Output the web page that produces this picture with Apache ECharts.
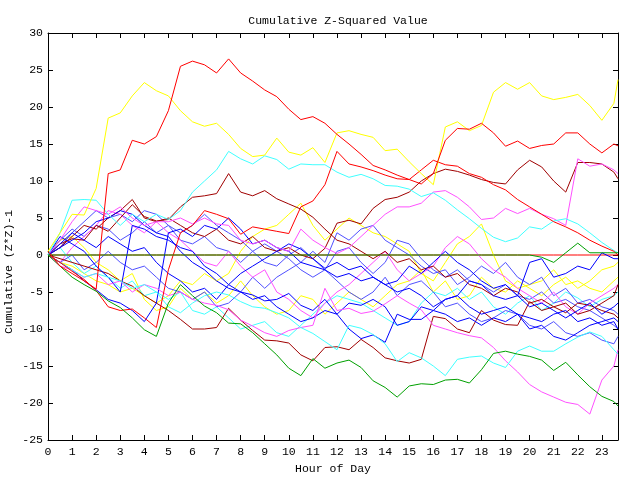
<!DOCTYPE html>
<html><head><meta charset="utf-8">
<script src="https://cdn.jsdelivr.net/npm/echarts@6/dist/echarts.min.js"></script>
<style>html,body{margin:0;padding:0;background:#fff;overflow:hidden}#c{width:640px;height:480px}</style>
</head><body><div id="c"></div>
<script>
// hour of day (half-hour samples, last sample at end of plot)
const hours = [0,0.5,1,1.5,2,2.5,3,3.5,4,4.5,5,5.5,6,6.5,7,7.5,8,8.5,9,9.5,10,10.5,11,11.5,12,12.5,13,13.5,14,14.5,15,15.5,16,16.5,17,17.5,18,18.5,19,19.5,20,20.5,21,21.5,22,22.5,23,23.5,23.67];
const xTicks = [0,1,2,3,4,5,6,7,8,9,10,11,12,13,14,15,16,17,18,19,20,21,22,23];
const yTicks = [-25,-20,-15,-10,-5,0,5,10,15,20,25,30];

const R0 = [0,0,0,0,0,0,0,0,0,0,0,0,0,0,0,0,0,0,0,0,0,0,0,0,0,0,0,0,0,0,0,0,0,0,0,0,0,0,0,0,0,0,0,0,0,0,0,0,0];
const Y2 = [0,-1,-1.5,-2.5,-3.5,-4,-5,-4.5,-5.5,-6.5,-5.5,-3.5,-4,-2.5,-3.5,-2.5,0.5,2.5,3.5,4,5.5,7,4,2,3.5,5,4,3,2.5,1.5,0.5,-2.5,-3.5,-1,1.5,2.5,4.2,0,-3.5,-4.5,-4,-3.5,-2,-4,-3.5,-4.5,-5,-3.5,-3];
const Y3 = [0.5,2,2.5,1,-1,-2,-3.5,-2.5,-6,-7.5,-7,-4.5,-6,-5,-6.5,-5.5,-3.5,-5.5,-7,-8,-7.5,-5.5,-6,-8,-6.5,-5,-6,-7,-5.5,-4,-3.5,-2,-5,-3.5,-6,-5.5,-3,-4.5,-5,-3.5,-4.5,-5.5,-4,-3,-4.5,-3.5,-2,-1.5,-1];
const C3 = [0,1,-1,-2.5,-1.5,-3,-4.5,-3.5,-5.5,-5,-6,-5,-7.5,-8,-7,-8.5,-10,-9.5,-9,-10.5,-11,-9.5,-8,-6.5,-5.5,-6,-6.5,-7.5,-8.5,-9.5,-9,-6.5,-5,-5.5,-4.5,-6,-5,-7,-8,-6.5,-5.5,-7.5,-6.5,-5,-5.8,-7,-6,-5.5,-5];
const LB1 = [0,2,3.5,2.5,4,3.5,2,3,4.5,3,4,2,1.5,2.5,1,0.5,-1,0.5,1.5,0.5,-0.5,-2,-3,-2,0.5,1,-1,-2.5,-1,2,1.5,-0.5,-2,-3,-2,-3.5,-4,-5,-4,-5.5,-6,-5,-6.5,-6,-7,-7.5,-8.5,-9.5,-10];
const LB2 = [0,-1,0,-2,-1,0.5,-1,-2,-1.5,-3,-4.5,-5,-6,-5,-7,-6.5,-5,-3,-4.5,-3,-2,-1,0.5,-1,3,2,3.5,4,2,1,0,-1.5,-2.5,-2,-4,-3,-1.5,-2.5,-1,-3,-4,-3,-5.5,-4.5,-6.5,-6,-7,-7.5,-8];
const LB3 = [0,1,3,4.5,6,5,5.5,4.5,6,5.5,4,3,4,5.5,4,3,2,0.5,-1,-1.5,0,1,-0.5,-2,-3.5,-5,-6,-5,-3,-5.5,-4,-3.5,-5,-7,-6.5,-8,-9,-8.5,-7.5,-8,-9.5,-10,-9,-10.5,-11,-10.5,-11.5,-12,-11];
const M3 = [0,-1,1,2.5,4,6,5.5,4,3,4.5,3,2,0.5,-1,-1.5,0.5,-1.5,-3,-2,-5,-6,-7.5,-8.5,-6.5,-5,-4,-2.5,-1,0.5,-2,-3.5,-2.5,-1.5,1,2.5,1.5,-0.5,-2,-3,-4.5,-5.5,-6.5,-5,-7,-8,-6.5,-5.5,-4.5,-4];
const DR1 = [0,1.5,2.2,2,4,3.2,5,6.8,5.2,4.6,4.8,6.5,7.8,8,8.3,11,8.5,8,8.7,7.6,6.9,6.2,5.1,3.5,2,1.5,0.5,-0.5,0.5,-1,-0.5,-2,-1.5,-3,-2.5,-4,-4.5,-5.5,-4.5,-5,-6.5,-6,-7,-6.5,-8,-7.5,-6.5,-5.5,-4];
const DR2 = [0,-0.5,-1,-1.5,-2,-2.5,-3.5,-4.2,-5.5,-6.5,-7.5,-8.7,-10,-10,-9.8,-7.2,-8.8,-10.2,-11.5,-11.6,-11.9,-13.5,-14.3,-12.5,-12.4,-12.8,-11.4,-12.5,-13.9,-14.3,-14.6,-14.1,-8.3,-8.6,-10,-10.5,-7.5,-8.8,-9.4,-9.5,-6.3,-7.5,-7,-7.8,-6.5,-6.8,-7.5,-8,-8.5];
const DR3 = [0,1,2.5,4,3.5,5,6,7.5,5,4.5,5,4,3,2.5,3.5,2,1.5,2.5,1,0.5,1,0,-0.5,0.9,4.3,4.7,4.2,6.3,7.5,7.8,8.5,10,11,11.6,11.3,10.8,10.2,9.8,9.6,11.5,12.8,11.9,10,8.5,12.5,12.5,12.3,11.2,10.3];
const B4 = [0,1.5,3,2,1,2.5,1.5,0.5,1,-1,-2.5,-3.5,-5,-4.5,-6,-4,-2.5,-1.5,-0.5,0.5,1.5,0.8,-0.5,-1.8,-1,-2,-1.5,-3,-4,-3.5,-1.5,-2.5,-1,0.5,-1,-2,-3.5,-4.5,-4,-5.5,-1,-0.5,-3,-2.5,-1.5,-2,0.3,-0.5,-0.5];
const B3 = [0,1,2,3,4.5,5,6,5.5,4,3,2.5,0.5,-1,-2,-3.5,-4.5,-5,-5.4,-6.2,-6,-5.2,-6.8,-7.5,-6,-8,-10,-11.3,-10.8,-11.8,-8,-8.7,-8.7,-7.5,-6,-5.5,-3.5,-4,-5.5,-6,-5.5,-7,-6.5,-7.5,-8.5,-7.5,-6.5,-8,-7,-6.5];
const B2 = [0,2.5,1.5,0.5,-1.5,-3,-5,4,3.5,2.5,2,1,0.5,-1.5,-2.5,-4,-5,-6,-5.5,-7,-8,-9,-8.5,-7.5,-8,-6.5,-6.8,-6,-7,-9.5,-9,-7,-7.5,-8,-9,-8.5,-9.5,-8.5,-9,-8,-10,-9.5,-11,-11.5,-10.5,-9.5,-9,-8.5,-9];
const B1 = [0,-1,-2,-3.5,-4.7,-6,-6.5,-7.5,-9,-6.5,3,3.5,2.5,4,3.5,5,3.5,1.5,2,1,0.5,-1,-1.5,-2,-3,-2.5,-3.5,-3,-4,-5,-4.5,-5.5,-7,-6,-5.5,-7,-8,-7.5,-7,-8,-8.5,-9,-8,-7.5,-9,-8.5,-9.5,-9,-10];
const M2 = [0,2,4.5,6.5,6,5.5,6.5,5,4,4.5,4.5,5,4.2,5,4.2,4,2,1.5,2,1,0.5,3.5,2,1,0.2,1,2.5,4,5.5,6.5,6.5,7,8.5,8.7,7.8,6.5,4.8,5,6.3,5.6,6.3,5.5,4.9,4,13,12,12.3,11.5,11];
const M1 = [0,-1.5,-2,-3,-2.5,-4,-3.5,-5,-4,-4.5,-5.5,-5,-6,-6.5,-6.8,-7.4,-8.8,-9.6,-10.5,-11,-10.2,-9.8,-9.5,-4.5,-7.5,-7.2,-7.9,-7.6,-6.6,-5.5,-6.5,-7.4,-9.5,-10,-10.5,-10.9,-11.2,-12.5,-14.3,-15.8,-17.5,-18.5,-19.2,-19.9,-20.2,-21.5,-16.9,-15,-12.8];
const C2 = [0,-1,-2,-3,-2.5,-3,-3.5,-4.5,-4,-5,-7,-7.8,-6.5,-5.5,-5,-5.4,-6.3,-7,-7.2,-7.8,-8.5,-9.8,-10.6,-11.7,-12.8,-9.5,-9.9,-10.75,-12,-14.4,-13.2,-13.9,-15,-16.3,-14.1,-13.8,-13.65,-14.6,-15.2,-13,-12.3,-13,-13,-12,-11.1,-10.4,-11,-12.8,-13.4];
const C1 = [0,3,7.4,7.5,7.4,5.5,4,5.5,4.5,5.5,4.8,6,8.5,10,11.5,14,13,12.3,13.4,12.9,11.6,12.3,12.2,12.2,11.2,10.5,10.9,10.3,9.4,9.3,8.9,7.9,8.4,7.4,6.1,4.9,3.6,2.4,1.8,2.3,3.8,3.5,4.6,4.9,4.2,3.0,1.7,0.6,0.3];
const R2 = [0,-1,-2.2,-3.3,-4.8,-7,-7.5,-7.3,-8.5,-9.8,-2,3,4,6,5.5,4.9,2.8,3.8,3.5,3.2,2.9,6.5,7.3,9.5,14,12.3,11.9,11.4,10.8,10.3,10.2,11.5,12.8,12.2,12,11,10.5,9.5,8.8,7.5,6.5,5.5,4.5,3.8,3,2,1.2,0.5,0];
const G1 = [0,-1.5,-3,-4,-4.9,-6.2,-7.1,-8.5,-10.1,-11,-6.5,-4,-5.5,-6.9,-7.8,-9.2,-9.3,-10.5,-12,-13.5,-15.3,-16.3,-14,-15.3,-14.6,-14.2,-15.2,-17,-17.9,-19.2,-17.7,-17.4,-17.5,-16.9,-16.8,-17.3,-15.5,-13.3,-13,-13.4,-13.7,-14.2,-15.6,-14.5,-16.2,-17.8,-19.1,-19.8,-20.4];
const G0 = [0,0,0,0,0,0,0,0,0,0,0,0,0,0,0,0,0,0,0,0,0,0,0,0,0,0,0,0,0,0,0,0,0,0,0,0,0,0,0,0,0,-0.3,-1,0.3,1.6,0.3,0.3,0.3,0.3];
const Y1 = [0.5,3,5.5,5.4,9,18.5,19.2,21.5,23.3,22.2,21.5,19.5,18.0,17.4,17.8,16.3,14.4,13.3,13.5,15.8,13.9,13.5,14.5,12.5,16.5,16.8,16.3,15.9,14.1,14.3,12.6,11.0,9.5,17.3,18.0,16.8,17.5,22.0,23.3,22.4,23.3,21.5,21.0,21.3,21.7,20.2,18.2,20.5,23.7];
const R1 = [0.5,-1.5,-2.5,-3.5,-4.6,11,11.5,15.5,15,16,19.5,25.5,26.2,25.7,24.6,26.5,24.6,23.5,22.3,21.4,19.7,18.3,18.7,17.8,16.3,15.0,13.6,12.1,11.5,10.8,10.2,9.6,11.0,15.5,17.1,17.0,17.8,16.5,14.7,15.4,14.4,14.8,15.0,16.5,16.5,15.0,13.8,15.0,14.75];

const RED='#ff0000', DRED='#a00000', YEL='#ffff00', CYA='#40ffff', MAG='#ff50ff', BLU='#0000ff', LBLU='#5050ff', GRN='#00a000';
const lines = [
  [R0,RED],[Y2,YEL],[Y3,YEL],[C3,CYA],[LB1,LBLU],[LB2,LBLU],[LB3,LBLU],[M3,MAG],
  [DR1,DRED],[DR2,DRED],[DR3,DRED],[B4,BLU],[B3,BLU],[B2,BLU],[B1,BLU],[M2,MAG],
  [M1,MAG],[C2,CYA],[C1,CYA],[R2,RED],[G1,GRN],[G0,GRN],[Y1,YEL],[R1,RED]
];

const FONT = '"Liberation Mono","DejaVu Sans Mono",monospace';
const txt = {fontFamily: FONT, fontSize: 11.5, color: '#000'};
const chart = echarts.init(document.getElementById('c'), null, {renderer: 'canvas', width: 640, height: 480});
const axisBase = {
  axisLine: {show: true, onZero: false, lineStyle: {color: '#000', width: 1}},
  axisTick: {show: true, inside: true, length: 5, lineStyle: {color: '#000'}},
  splitLine: {show: false}
};
chart.setOption({
  animation: false,
  backgroundColor: '#fff',
  title: {text: 'Cumulative Z-Squared Value', left: 333, top: 10, textAlign: 'center',
          textStyle: Object.assign({fontWeight: 'normal'}, txt)},
  grid: {left: 48, right: 22, top: 33, bottom: 37, containLabel: false},
  xAxis: [
    Object.assign({type: 'value', min: 0, max: 23.67, interval: 1, position: 'bottom',
      name: 'Hour of Day', nameLocation: 'middle', nameGap: 23, nameTextStyle: txt,
      axisLabel: Object.assign({margin: 6, showMaxLabel: false,
        formatter: v => xTicks.indexOf(v) >= 0 ? String(v) : ''}, txt)}, axisBase),
    Object.assign({type: 'value', min: 0, max: 23.67, interval: 1, position: 'top',
      axisLabel: {show: false}}, axisBase)
  ],
  yAxis: [
    Object.assign({type: 'value', min: yTicks[0], max: yTicks[yTicks.length-1], interval: 5, position: 'left',
      axisLabel: Object.assign({margin: 5}, txt)}, axisBase),
    Object.assign({type: 'value', min: yTicks[0], max: yTicks[yTicks.length-1], interval: 5, position: 'right',
      axisLabel: {show: false}}, axisBase)
  ],
  graphic: [{type: 'text', x: 9, y: 272, rotation: Math.PI/2,
    style: {text: 'Cumulative (Z*Z)-1', font: '11.5px ' + FONT, fill: '#000', textAlign: 'center', textVerticalAlign: 'middle'}}],
  series: lines.map(([vals, col]) => ({
    type: 'line', showSymbol: false, silent: true,
    data: hours.map((h, i) => [h, vals[i]]),
    lineStyle: {color: col, width: 1}, itemStyle: {color: col}
  }))
});
</script></body></html>
